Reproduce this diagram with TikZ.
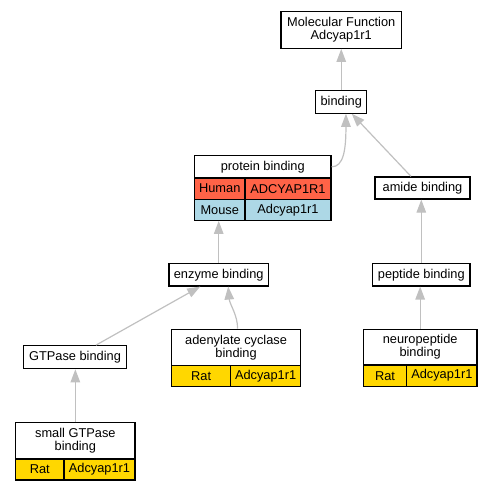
\documentclass[tikz,border=0pt]{standalone}
\usepackage{fontspec}
\setmainfont{Liberation Sans}
\usetikzlibrary{arrows.meta,calc}
\definecolor{edgegray}{HTML}{C0C0C0}
\definecolor{tomatoc}{HTML}{FF6347}
\definecolor{lightbluec}{HTML}{ADD8E6}
\definecolor{goldc}{HTML}{FFD700}
\begin{document}
\begin{tikzpicture}[x=1pt,y=-1pt,
  cell/.style={draw=black, line width=1.2pt, inner sep=0pt, fill=white, align=center,
    font=\fontsize{12.8}{13}\selectfont},
  human/.style={cell, fill=tomatoc},
  mouse/.style={cell, fill=lightbluec},
  rat/.style={cell, fill=goldc},
  outline/.style={inner sep=0pt},
  edge/.style={draw=edgegray, line width=1.2pt, -{Triangle[length=13pt,width=9.5pt]}}
]
\useasboundingbox (0,0) rectangle (492,491);

% Molecular Function
\node[cell, minimum width=120.5pt, minimum height=36.6pt] (mf) at (341.25,30) {Molecular Function\\Adcyap1r1};
% binding
\node[cell, minimum width=51pt, minimum height=22.5pt] (bind) at (341.25,101.9) {binding};
% protein binding
\node[cell, minimum width=136.5pt, minimum height=22.3pt] (pb) at (262.75,166.85) {protein binding};
\node[human, minimum width=50.5pt, minimum height=21.3pt] (pbhl) at (219.75,188.65) {Human};
\node[human, minimum width=86pt, minimum height=21.3pt] (pbhr) at (288,188.65) {ADCYAP1R1};
\node[mouse, minimum width=50.5pt, minimum height=21.4pt] (pbml) at (219.75,210) {Mouse};
\node[mouse, minimum width=86pt, minimum height=21.4pt] (pbmr) at (288,210) {Adcyap1r1};
\node[outline, minimum width=136.5pt, minimum height=65pt] (pball) at (262.75,188.2) {};
% amide binding
\node[cell, minimum width=95pt, minimum height=22pt] (amide) at (422.5,188) {amide binding};
% enzyme binding
\node[cell, minimum width=99.3pt, minimum height=22.5pt] (enzyme) at (218.7,274.7) {enzyme binding};
% peptide binding
\node[cell, minimum width=97.3pt, minimum height=22.5pt] (peptide) at (421.3,274.7) {peptide binding};
% GTPase binding
\node[cell, minimum width=103.4pt, minimum height=23pt] (gtp) at (75,357.2) {GTPase binding};
% adenylate cyclase binding
\node[cell, minimum width=128.8pt, minimum height=36pt] (ac) at (236.1,347.3) {adenylate cyclase\\binding};
\node[rat, minimum width=59pt, minimum height=21.2pt] (acl) at (201.2,375.9) {Rat};
\node[rat, minimum width=69.8pt, minimum height=21.2pt] (acr) at (265.6,375.9) {Adcyap1r1};
% neuropeptide binding
\node[cell, minimum width=113.7pt, minimum height=35.7pt] (np) at (420.15,347.15) {neuropeptide\\binding};
\node[rat, minimum width=43.4pt, minimum height=21.3pt] (npl) at (385,375.65) {Rat};
\node[rat, minimum width=70.3pt, minimum height=21.3pt] (npr) at (441.85,375.65) {Adcyap1r1};
% small GTPase binding
\node[cell, minimum width=119.3pt, minimum height=36.3pt] (sg) at (75.35,440.85) {small GTPase\\binding};
\node[rat, minimum width=48.3pt, minimum height=21pt] (sgl) at (39.85,469.5) {Rat};
\node[rat, minimum width=71pt, minimum height=21pt] (sgr) at (99.5,469.5) {Adcyap1r1};

% edges
\draw[edge] (bind.north) -- (mf.south);
\draw[edge] (pb.east) .. controls +(12,0) and +(0,36) .. ($(bind.south)+(4.7,0)$);
\draw[edge] ($(amide.north)+(-11.5,0)$) -- ($(bind.south)+(10.5,0)$);
\draw[edge] (enzyme.north) -- (enzyme.north |- pball.south);
\draw[edge] (peptide.north) -- (peptide.north |- amide.south);
\draw[edge] (np.north) -- (np.north |- peptide.south);
\draw[edge] ($(gtp.north)+(21,0)$) -- ($(enzyme.south)+(-18.5,0)$);
\draw[edge] ($(ac.north)+(1.5,0)$) .. controls +(0,-14) and +(1.5,18) .. ($(enzyme.south)+(9.5,0)$);
\draw[edge] (sg.north) -- (sg.north |- gtp.south);
\end{tikzpicture}
\end{document}
